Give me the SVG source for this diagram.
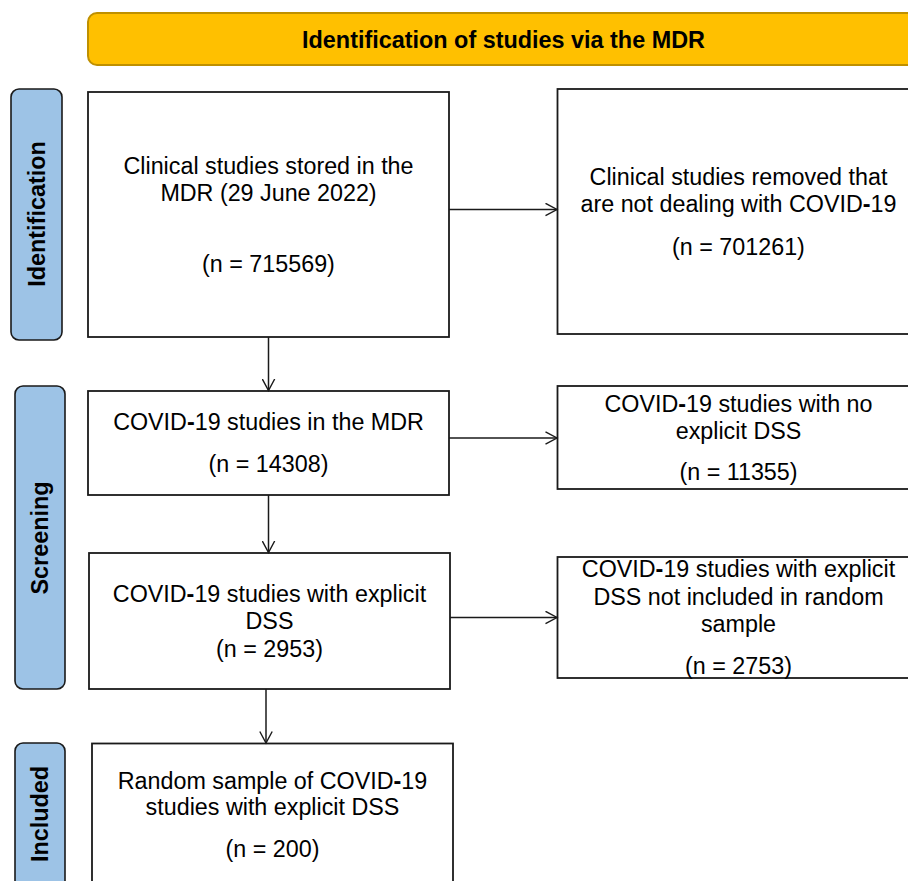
<svg xmlns="http://www.w3.org/2000/svg" width="908" height="881" viewBox="0 0 908 881">
<style>
  .bg{fill:#ffffff}
  .box{fill:#ffffff;stroke:#1a1a1a;stroke-width:1.8}
  .hdr{fill:#FFC000;stroke:#BF9000;stroke-width:2}
  .lab{fill:#9DC3E6;stroke:#1a1a1a;stroke-width:1.6}
  .t{font-family:"Liberation Sans",Arial,sans-serif;font-size:23.3px;fill:#000000;text-anchor:middle}
  .b{font-family:"Liberation Sans",Arial,sans-serif;font-size:23.4px;font-weight:bold;fill:#000000;text-anchor:middle}
  .h{font-weight:bold}
  .c{fill:none;stroke:#1a1a1a;stroke-width:1.5}
</style>
<defs>
  <marker id="arr" markerWidth="14" markerHeight="14" refX="12" refY="7" orient="auto" markerUnits="userSpaceOnUse">
    <polyline points="0.5,0.8 12,7 0.5,13.2" fill="none" stroke="#1a1a1a" stroke-width="1.4"/>
  </marker>
</defs>
<rect class="bg" x="0" y="0" width="908" height="881"/>

<g id="header">
  <rect class="hdr" x="88" y="13" width="840" height="52" rx="9"/>
  <text class="b" x="503.5" y="47.5">Identification of studies via the MDR</text>
</g>

<g id="label-identification">
  <rect class="lab" x="11" y="89" width="51" height="251" rx="8"/>
  <text class="b" transform="translate(45,214) rotate(-90)" x="0" y="0">Identification</text>
</g>
<g id="label-screening">
  <rect class="lab" x="15" y="386" width="50" height="303" rx="8"/>
  <text class="b" transform="translate(48,538) rotate(-90)" x="0" y="0">Screening</text>
</g>
<g id="label-included">
  <rect class="lab" x="15" y="743" width="50" height="160" rx="8"/>
  <text class="b" transform="translate(48,814) rotate(-90)" x="0" y="0">Included</text>
</g>

<g id="n1">
  <rect class="box" x="88" y="92" width="361" height="245"/>
  <text class="t" x="268.5" y="174">Clinical studies stored in the</text>
  <text class="t" x="268.5" y="201">MDR (29 June 2022)</text>
  <text class="t" x="268.5" y="272">(n = 715569)</text>
</g>
<g id="n2">
  <rect class="box" x="557.5" y="89" width="362" height="245"/>
  <text class="t" x="738.5" y="185">Clinical studies removed that</text>
  <text class="t" x="738.5" y="212">are not dealing with COVID<tspan class="h">-</tspan>19</text>
  <text class="t" x="738.5" y="255">(n = 701261)</text>
</g>
<g id="n3">
  <rect class="box" x="88" y="391" width="361" height="104"/>
  <text class="t" x="268.5" y="429.5">COVID<tspan class="h">-</tspan>19 studies in the MDR</text>
  <text class="t" x="268.5" y="471.5">(n = 14308)</text>
</g>
<g id="n4">
  <rect class="box" x="557.5" y="386" width="362" height="103"/>
  <text class="t" x="738.5" y="411.5">COVID<tspan class="h">-</tspan>19 studies with no</text>
  <text class="t" x="738.5" y="438.5">explicit DSS</text>
  <text class="t" x="738.5" y="480">(n = 11355)</text>
</g>
<g id="n5">
  <rect class="box" x="89" y="553" width="361" height="136"/>
  <text class="t" x="269.5" y="601.5">COVID<tspan class="h">-</tspan>19 studies with explicit</text>
  <text class="t" x="269.5" y="629">DSS</text>
  <text class="t" x="269.5" y="656.5">(n = 2953)</text>
</g>
<g id="n6">
  <rect class="box" x="557.5" y="557" width="362" height="121"/>
  <text class="t" x="738.5" y="577">COVID<tspan class="h">-</tspan>19 studies with explicit</text>
  <text class="t" x="738.5" y="604.5">DSS not included in random</text>
  <text class="t" x="738.5" y="632">sample</text>
  <text class="t" x="738.5" y="673.5">(n = 2753)</text>
</g>
<g id="n7">
  <rect class="box" x="92" y="743.5" width="361" height="160"/>
  <text class="t" x="272.5" y="788.5">Random sample of COVID<tspan class="h">-</tspan>19</text>
  <text class="t" x="272.5" y="815">studies with explicit DSS</text>
  <text class="t" x="272.5" y="857">(n = 200)</text>
</g>

<g id="connectors">
  <line class="c" x1="449" y1="209.5" x2="557" y2="209.5" marker-end="url(#arr)"/>
  <line class="c" x1="268.5" y1="337" x2="268.5" y2="390.5" marker-end="url(#arr)"/>
  <line class="c" x1="449" y1="438" x2="557" y2="438" marker-end="url(#arr)"/>
  <line class="c" x1="268.5" y1="495" x2="268.5" y2="552.5" marker-end="url(#arr)"/>
  <line class="c" x1="450" y1="617.5" x2="557" y2="617.5" marker-end="url(#arr)"/>
  <line class="c" x1="266" y1="689" x2="266" y2="743" marker-end="url(#arr)"/>
</g>
</svg>
